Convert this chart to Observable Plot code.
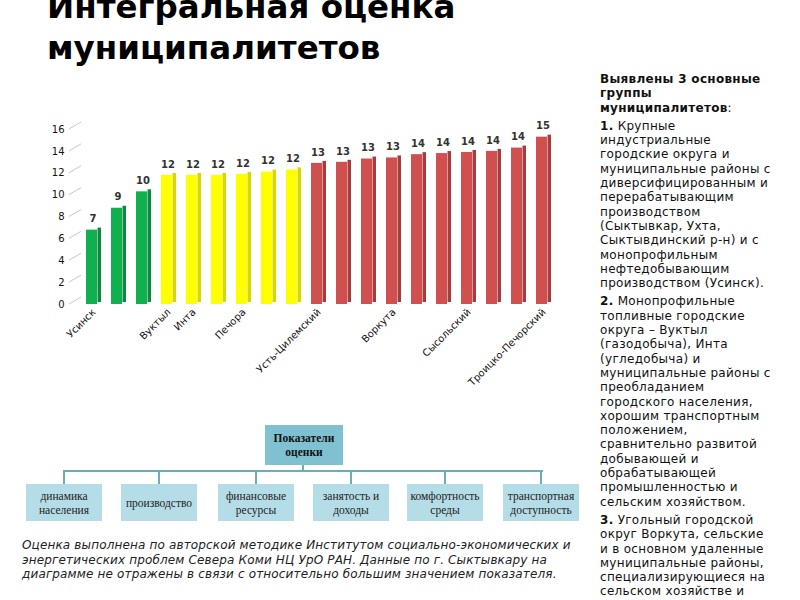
<!DOCTYPE html>
<html><head><meta charset="utf-8">
<script src="https://cdn.jsdelivr.net/npm/d3@7"></script>
<script src="https://cdn.jsdelivr.net/npm/@observablehq/plot@0.6"></script>
<style>
body{margin:0;width:800px;height:600px;overflow:hidden;background:#fff;font-family:"DejaVu Sans",sans-serif;position:relative}
#title{position:absolute;left:47px;top:-13px;font-weight:bold;font-size:32.5px;line-height:41px;color:#000;white-space:pre}
#chart{position:absolute;left:30px;top:110px}
#side{position:absolute;left:600px;top:72px;width:200px;height:528px;overflow:hidden;font-size:12px;line-height:14.3px;color:#111;white-space:pre;letter-spacing:0.3px}
#side p{margin:0 0 4px 0}
#note{position:absolute;left:22px;top:538px;font-size:12px;line-height:14.5px;font-style:italic;color:#222;white-space:pre;letter-spacing:0.15px}
.box{position:absolute;display:flex;align-items:center;justify-content:center;text-align:center;font-family:"Liberation Serif","DejaVu Serif",serif;font-size:11.5px;line-height:14px;color:#222;background:#b5dde7;white-space:pre}
.top{background:#80c1d1;font-weight:bold;color:#111}
.ln{position:absolute;background:#6aaebe}
</style></head><body>
<div id="title">Интегральная оценка
муниципалитетов</div>
<div id="chart"></div>
<div id="side"><p><b>Выявлены 3 основные
группы
муниципалитетов</b>:</p><p><b>1.</b> Крупные
индустриальные
городские округа и
муниципальные районы с
диверсифицированным и
перерабатывающим
производством
(Сыктывкар, Ухта,
Сыктывдинский р-н) и с
монопрофильным
нефтедобывающим
производством (Усинск).</p><p><b>2.</b> Монопрофильные
топливные городские
округа – Вуктыл
(газодобыча), Инта
(угледобыча) и
муниципальные районы с
преобладанием
городского населения,
хорошим транспортным
положением,
сравнительно развитой
добывающей и
обрабатывающей
промышленностью и
сельским хозяйством.</p><p><b>3.</b> Угольный городской
округ Воркута, сельские
и в основном удаленные
муниципальные районы,
специализирующиеся на
сельском хозяйстве и</p></div>
<div id="diagram"></div>
<div id="note">Оценка выполнена по авторской методике Институтом социально-экономических и
энергетических проблем Севера Коми НЦ УрО РАН. Данные по г. Сыктывкару на
диаграмме не отражены в связи с относительно большим значением показателя.</div>
<script>
// ---- data ----
const names = ["Усинск","","","Вуктыл","Инта","","Печора","","","Усть-Цилемский","","","Воркута","","","Сысольский","","","Троицко-Печорский"];
const values = [6.8,8.8,10.3,11.8,11.8,11.8,11.9,12.1,12.3,12.9,13.0,13.3,13.4,13.7,13.8,13.9,14.0,14.3,15.3];
const groups = ["g","g","g","y","y","y","y","y","y","r","r","r","r","r","r","r","r","r","r"];
const yTicks = [0,2,4,6,8,10,12,14,16];
const indicators = ["динамика\nнаселения","производство","финансовые\nресурсы","занятость и\nдоходы","комфортность\nсреды","транспортная\nдоступность"];
const rootLabel = "Показатели\nоценки";

const front = {g:"#10b050", y:"#ffff00", r:"#d05050"};
const sideC = {g:"#0b8a3e", y:"#d8d800", r:"#a83c3c"};
const rows = values.map((v,i)=>({i, name:names[i], value:v, group:groups[i]}));

const sideW = 4;
const chart = Plot.plot({
  width: 545, height: 289,
  marginLeft: 38, marginRight: 6, marginTop: 19, marginBottom: 95,
  style: {fontFamily: "DejaVu Sans", fontSize: "10px", background: "transparent"},
  x: {type: "band", domain: d3.range(values.length), padding: 0.4},
  y: {domain: [0, 16]},
  marks: [
    (index, scales, vals, dims) => {
      const g = d3.create("svg:g");
      for (const t of yTicks) {
        const yy = scales.y(t);
        g.append("line").attr("x1", dims.marginLeft + 1).attr("x2", dims.marginLeft + 13)
          .attr("y1", yy).attr("y2", yy - 7).attr("stroke", "#c8c8c8").attr("stroke-width", 1);
      }
      return g.node();
    },
    Plot.axisY({ticks: yTicks, tickSize: 0, tickPadding: 4, fontSize: 10, fill: "#111", label: null}),
    Plot.axisX({tickFormat: i => names[i], tickRotate: -45, tickSize: 0, tickPadding: 6, fontSize: 10, fill: "#111", label: null}),
    Plot.barY(rows, {x: "i", y: "value", fill: d => sideC[d.group], insetLeft: 11.5, dy: -2}),
    Plot.barY(rows, {x: "i", y: "value", fill: d => front[d.group], insetRight: sideW}),
    Plot.text(rows, {x: "i", y: "value", text: d => String(Math.round(d.value)), dy: -11, dx: -1, fontWeight: "bold", fontSize: 10, fill: "#333"})
  ]
});
document.getElementById("chart").appendChild(chart);

// ---- indicator diagram ----
const dg = document.getElementById("diagram");
function add(cls, l, t, w, h, txt){
  const e = document.createElement("div"); e.className = cls;
  Object.assign(e.style, {left:l+"px", top:t+"px", width:w+"px", height:h+"px"});
  if (txt !== undefined) e.textContent = txt;
  dg.appendChild(e);
}
const boxX = [26, 121, 218, 313, 407, 503];
const boxW = 76;
add("ln", 63, 470, 480, 2);
add("ln", 302, 462, 2, 9);
boxX.forEach(x => add("ln", x + boxW/2 - 1, 470, 2, 15));
add("box top", 265, 425, 78, 40, rootLabel);
indicators.forEach((t, k) => add("box", boxX[k], 484, boxW, 37, t));
</script>
</body></html>
